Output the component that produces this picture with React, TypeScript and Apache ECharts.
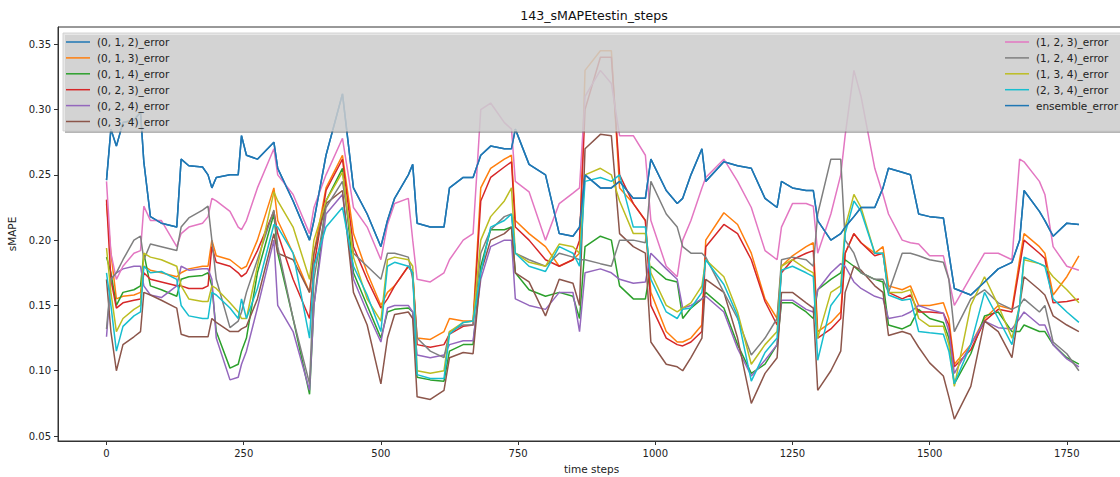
import React, { useEffect, useRef } from "react";
import * as echarts from "echarts";

const steps = [
  0, 8, 18, 30, 50, 62, 68, 80, 100, 128,
  136, 150, 175, 185, 192, 200, 225, 240, 246, 255,
  275, 305, 312, 340, 370, 378, 400, 430, 450, 475,
  500, 512, 525, 550, 558, 566, 590, 615, 625, 650,
  668, 682, 700, 725, 738, 745, 770, 800, 825, 850,
  862, 872, 900, 920, 935, 960, 982, 992, 1020, 1040,
  1050, 1065, 1085, 1092, 1125, 1150, 1175, 1200, 1222, 1230,
  1250, 1275, 1288, 1296, 1320, 1338, 1346, 1362, 1375, 1400,
  1415, 1425, 1450, 1465, 1480, 1500, 1525, 1535, 1545, 1575,
  1600, 1625, 1650, 1664, 1672, 1700, 1710, 1725, 1750, 1772,
];

const err012 = [
  0.246,0.285,0.272,0.29,0.292,0.298,0.26,0.218,0.213,0.21,
  0.262,0.257,0.256,0.25,0.24,0.248,0.25,0.25,0.28,0.265,
  0.262,0.275,0.255,0.23,0.2,0.215,0.265,0.312,0.24,0.22,
  0.195,0.215,0.232,0.25,0.258,0.213,0.21,0.21,0.24,0.248,
  0.248,0.265,0.272,0.27,0.27,0.285,0.258,0.25,0.205,0.203,
  0.21,0.25,0.24,0.24,0.245,0.232,0.232,0.262,0.238,0.228,
  0.232,0.25,0.27,0.245,0.26,0.257,0.255,0.232,0.225,0.245,
  0.24,0.238,0.238,0.215,0.2,0.205,0.21,0.218,0.225,0.225,
  0.24,0.255,0.252,0.25,0.22,0.218,0.217,0.19,0.163,0.158,
  0.168,0.178,0.183,0.2,0.238,0.222,0.215,0.203,0.213,0.212,
];
const err013 = [
  0.228,0.19,0.155,0.157,0.158,0.16,0.18,0.177,0.175,0.172,
  0.175,0.178,0.18,0.18,0.2,0.188,0.185,0.18,0.178,0.18,
  0.2,0.24,0.215,0.19,0.16,0.19,0.24,0.265,0.205,0.175,
  0.15,0.16,0.165,0.18,0.175,0.125,0.124,0.13,0.14,0.138,
  0.138,0.24,0.255,0.262,0.265,0.215,0.205,0.195,0.18,0.185,
  0.19,0.33,0.345,0.345,0.24,0.228,0.215,0.16,0.13,0.122,
  0.122,0.125,0.135,0.2,0.221,0.212,0.19,0.155,0.14,0.18,
  0.188,0.195,0.198,0.13,0.137,0.145,0.19,0.205,0.198,0.19,
  0.195,0.165,0.162,0.165,0.15,0.15,0.152,0.14,0.105,0.12,
  0.14,0.15,0.147,0.185,0.205,0.195,0.19,0.158,0.172,0.188,
];
const err014 = [
  0.187,0.175,0.15,0.16,0.162,0.165,0.19,0.165,0.162,0.157,
  0.17,0.172,0.173,0.175,0.165,0.13,0.102,0.105,0.115,0.125,
  0.175,0.22,0.19,0.14,0.082,0.15,0.23,0.255,0.175,0.15,
  0.125,0.145,0.147,0.148,0.145,0.095,0.093,0.092,0.115,0.12,
  0.12,0.18,0.208,0.208,0.21,0.175,0.162,0.157,0.16,0.157,
  0.14,0.195,0.203,0.2,0.165,0.155,0.155,0.18,0.17,0.168,
  0.14,0.148,0.155,0.16,0.148,0.12,0.098,0.105,0.12,0.152,
  0.152,0.145,0.14,0.162,0.17,0.175,0.185,0.18,0.175,0.17,
  0.168,0.135,0.132,0.135,0.147,0.14,0.137,0.125,0.09,0.113,
  0.142,0.145,0.13,0.13,0.135,0.13,0.13,0.12,0.11,0.105,
];
const err023 = [
  0.231,0.17,0.148,0.152,0.154,0.155,0.175,0.17,0.168,0.165,
  0.165,0.163,0.163,0.165,0.195,0.183,0.18,0.175,0.172,0.175,
  0.192,0.222,0.205,0.17,0.14,0.18,0.238,0.262,0.195,0.17,
  0.148,0.155,0.165,0.18,0.175,0.12,0.118,0.12,0.128,0.134,
  0.135,0.23,0.248,0.256,0.26,0.21,0.2,0.185,0.18,0.185,
  0.2,0.3,0.34,0.34,0.25,0.228,0.215,0.15,0.125,0.12,
  0.119,0.122,0.13,0.195,0.212,0.205,0.185,0.153,0.135,0.175,
  0.185,0.19,0.192,0.125,0.132,0.14,0.19,0.205,0.198,0.188,
  0.19,0.16,0.155,0.158,0.145,0.145,0.144,0.135,0.103,0.116,
  0.138,0.147,0.145,0.18,0.2,0.19,0.186,0.152,0.153,0.155,
];
const err024 = [
  0.126,0.17,0.175,0.178,0.18,0.18,0.165,0.158,0.156,0.165,
  0.18,0.177,0.178,0.178,0.17,0.125,0.093,0.095,0.105,0.115,
  0.148,0.2,0.15,0.13,0.085,0.15,0.22,0.235,0.17,0.145,
  0.122,0.148,0.15,0.15,0.145,0.112,0.11,0.112,0.12,0.123,
  0.123,0.17,0.195,0.2,0.2,0.155,0.15,0.147,0.16,0.16,
  0.13,0.175,0.178,0.175,0.17,0.167,0.168,0.19,0.178,0.17,
  0.148,0.15,0.155,0.157,0.145,0.117,0.096,0.108,0.12,0.154,
  0.154,0.147,0.145,0.162,0.175,0.182,0.18,0.168,0.163,0.157,
  0.155,0.14,0.142,0.145,0.15,0.147,0.144,0.13,0.098,0.12,
  0.138,0.133,0.132,0.14,0.145,0.135,0.135,0.12,0.109,0.103,
];
const err034 = [
  0.17,0.13,0.1,0.12,0.126,0.13,0.16,0.158,0.154,0.148,
  0.128,0.126,0.126,0.126,0.14,0.137,0.13,0.13,0.132,0.134,
  0.155,0.205,0.19,0.185,0.16,0.19,0.228,0.238,0.16,0.135,
  0.09,0.125,0.143,0.145,0.14,0.08,0.078,0.085,0.11,0.114,
  0.113,0.175,0.2,0.205,0.21,0.175,0.168,0.142,0.17,0.167,
  0.15,0.27,0.281,0.28,0.205,0.195,0.19,0.122,0.105,0.103,
  0.1,0.11,0.125,0.17,0.16,0.125,0.075,0.098,0.11,0.16,
  0.16,0.152,0.148,0.085,0.1,0.115,0.16,0.18,0.177,0.165,
  0.16,0.127,0.13,0.128,0.118,0.106,0.096,0.08,0.063,0.088,
  0.138,0.13,0.11,0.15,0.172,0.162,0.158,0.142,0.135,0.13,
];
const err123 = [
  0.245,0.19,0.17,0.18,0.19,0.192,0.226,0.215,0.215,0.195,
  0.205,0.21,0.213,0.218,0.232,0.23,0.222,0.21,0.208,0.215,
  0.24,0.27,0.25,0.235,0.205,0.225,0.25,0.278,0.225,0.21,
  0.185,0.212,0.228,0.232,0.2,0.17,0.168,0.175,0.185,0.2,
  0.205,0.3,0.305,0.29,0.285,0.245,0.237,0.2,0.228,0.236,
  0.24,0.31,0.33,0.32,0.28,0.28,0.265,0.215,0.18,0.172,
  0.2,0.215,0.24,0.248,0.262,0.245,0.225,0.192,0.185,0.21,
  0.228,0.228,0.226,0.19,0.22,0.25,0.28,0.33,0.31,0.255,
  0.235,0.22,0.2,0.198,0.197,0.188,0.188,0.17,0.15,0.172,
  0.19,0.19,0.185,0.262,0.26,0.245,0.235,0.195,0.18,0.177,
];
const err124 = [
  0.132,0.17,0.175,0.185,0.2,0.203,0.185,0.197,0.195,0.192,
  0.21,0.217,0.223,0.226,0.2,0.17,0.133,0.138,0.145,0.16,
  0.185,0.223,0.195,0.14,0.09,0.17,0.225,0.245,0.19,0.18,
  0.17,0.19,0.19,0.187,0.17,0.125,0.115,0.11,0.13,0.135,
  0.135,0.19,0.208,0.218,0.22,0.19,0.185,0.18,0.19,0.187,
  0.185,0.185,0.182,0.18,0.2,0.2,0.198,0.245,0.22,0.21,
  0.195,0.19,0.19,0.187,0.16,0.14,0.112,0.125,0.14,0.185,
  0.187,0.185,0.18,0.22,0.262,0.262,0.2,0.19,0.175,0.17,
  0.17,0.16,0.19,0.19,0.188,0.185,0.183,0.17,0.13,0.155,
  0.162,0.152,0.147,0.15,0.155,0.145,0.15,0.122,0.113,0.1,
];
const err134 = [
  0.194,0.16,0.13,0.14,0.147,0.15,0.19,0.187,0.185,0.18,
  0.165,0.155,0.153,0.153,0.165,0.163,0.152,0.145,0.14,0.14,
  0.18,0.237,0.23,0.21,0.17,0.2,0.23,0.252,0.187,0.155,
  0.138,0.185,0.187,0.185,0.18,0.1,0.098,0.1,0.13,0.137,
  0.138,0.2,0.218,0.23,0.24,0.19,0.183,0.18,0.197,0.195,
  0.19,0.25,0.255,0.25,0.23,0.205,0.205,0.175,0.15,0.145,
  0.148,0.152,0.165,0.185,0.172,0.145,0.105,0.12,0.13,0.18,
  0.185,0.178,0.175,0.125,0.16,0.165,0.21,0.235,0.225,0.19,
  0.19,0.16,0.16,0.162,0.14,0.134,0.134,0.12,0.088,0.15,
  0.172,0.15,0.125,0.15,0.185,0.182,0.18,0.172,0.162,0.152,
];
const err234 = [
  0.175,0.15,0.115,0.134,0.142,0.145,0.18,0.175,0.176,0.17,
  0.15,0.142,0.14,0.14,0.16,0.158,0.148,0.14,0.155,0.14,
  0.163,0.212,0.21,0.19,0.125,0.18,0.21,0.225,0.18,0.158,
  0.13,0.18,0.183,0.18,0.175,0.097,0.094,0.094,0.128,0.137,
  0.138,0.175,0.21,0.215,0.22,0.19,0.18,0.176,0.195,0.19,
  0.18,0.245,0.248,0.245,0.25,0.21,0.21,0.17,0.145,0.14,
  0.147,0.148,0.16,0.185,0.166,0.142,0.092,0.114,0.125,0.177,
  0.18,0.175,0.172,0.108,0.15,0.16,0.205,0.23,0.222,0.19,
  0.19,0.158,0.154,0.155,0.13,0.129,0.128,0.115,0.09,0.12,
  0.16,0.14,0.12,0.15,0.187,0.182,0.18,0.155,0.145,0.137,
];
const ensembleErr = [
  0.246,0.285,0.272,0.29,0.292,0.298,0.26,0.218,0.213,0.21,
  0.262,0.257,0.256,0.25,0.24,0.248,0.25,0.25,0.28,0.265,
  0.262,0.275,0.255,0.23,0.2,0.215,0.265,0.312,0.24,0.22,
  0.195,0.215,0.232,0.25,0.258,0.213,0.21,0.21,0.24,0.248,
  0.248,0.265,0.272,0.27,0.27,0.285,0.258,0.25,0.205,0.203,
  0.21,0.25,0.24,0.24,0.245,0.232,0.232,0.262,0.238,0.228,
  0.232,0.25,0.27,0.245,0.26,0.257,0.255,0.232,0.225,0.245,
  0.24,0.238,0.238,0.215,0.2,0.205,0.21,0.218,0.225,0.225,
  0.24,0.255,0.252,0.25,0.22,0.218,0.217,0.19,0.163,0.158,
  0.168,0.178,0.183,0.2,0.238,0.222,0.215,0.203,0.213,0.212,
];

const seriesNames = ["(0, 1, 2)_error","(0, 1, 3)_error","(0, 1, 4)_error","(0, 2, 3)_error","(0, 2, 4)_error","(0, 3, 4)_error","(1, 2, 3)_error","(1, 2, 4)_error","(1, 3, 4)_error","(2, 3, 4)_error","ensemble_error"];
const seriesValues = [err012, err013, err014, err023, err024, err034, err123, err124, err134, err234, ensembleErr];
const colors = ["#1f77b4","#ff7f0e","#2ca02c","#d62728","#9467bd","#8c564b","#e377c2","#7f7f7f","#bcbd22","#17becf","#1f77b4"];

const xTicks = [0, 250, 500, 750, 1000, 1250, 1500, 1750];
const yTicks = [0.05, 0.1, 0.15, 0.2, 0.25, 0.3, 0.35];

const FONT = "DejaVu Sans";

export default function App() {
  const ref = useRef<HTMLDivElement>(null);
  useEffect(() => {
    if (!ref.current) return;
    const chart = echarts.init(ref.current, undefined, { renderer: "svg" });

    const els: any[] = [];
    els.push({
      type: "rect", z: 100,
      shape: { x: 65, y: 35, width: 1064, height: 98 },
      style: { fill: "rgba(110,110,110,0.5)" },
    });
    els.push({
      type: "rect", z: 101,
      shape: { x: 63, y: 33, width: 1064, height: 98 },
      style: { fill: "rgba(222,222,222,0.72)", stroke: "rgba(204,204,204,0.8)", lineWidth: 1 },
    });
    seriesNames.forEach((name, i) => {
      const col = i < 6 ? 0 : 1;
      const row = i < 6 ? i : i - 6;
      const y = 42 + row * 15.9;
      const lx = col === 0 ? 66 : 1005;
      els.push({
        type: "line", z: 102,
        shape: { x1: lx, y1: y, x2: lx + 24, y2: y },
        style: { stroke: colors[i], lineWidth: 1.5 },
      });
      els.push({
        type: "text", z: 102,
        x: lx + 31, y,
        style: { text: name, fill: "#222", font: `10.5px '${FONT}'`, align: "left", verticalAlign: "middle" },
      });
    });
    els.push({
      type: "text", z: 102, x: 594, y: 15,
      style: { text: "143_sMAPEtestin_steps", fill: "#111", font: `12.6px '${FONT}'`, align: "center", verticalAlign: "middle" },
    });

    const option: any = {
      animation: false,
      backgroundColor: "#ffffff",
      textStyle: { fontFamily: FONT },
      grid: {
        left: 58, top: 27, width: 1067, height: 414,
        outerBoundsMode: "none", containLabel: false,
        show: true, borderColor: "#333", borderWidth: 1, backgroundColor: "transparent",
      },
      xAxis: {
        type: "value", min: -88.4, max: 1856,
        axisLine: { show: true, onZero: false, lineStyle: { color: "#333", width: 1 } },
        axisTick: { show: true, length: 4, customValues: xTicks, lineStyle: { color: "#333" } },
        axisLabel: { customValues: xTicks, color: "#222", fontSize: 10, margin: 7, fontFamily: FONT, formatter: (v: number) => String(v) },
        splitLine: { show: false },
        name: "time steps", nameLocation: "middle", nameGap: 22,
        nameTextStyle: { fontSize: 10.5, color: "#222", fontFamily: FONT },
      },
      yAxis: {
        type: "value", min: 0.0462, max: 0.3632,
        axisLine: { show: true, onZero: false, lineStyle: { color: "#333", width: 1 } },
        axisTick: { show: true, length: 4, customValues: yTicks, lineStyle: { color: "#333" } },
        axisLabel: { customValues: yTicks, color: "#222", fontSize: 10, margin: 7, fontFamily: FONT, formatter: (v: number) => v.toFixed(2) },
        splitLine: { show: false },
        name: "sMAPE", nameLocation: "middle", nameGap: 38,
        nameTextStyle: { fontSize: 10.5, color: "#222", fontFamily: FONT },
      },
      series: seriesNames.map((name, i) => ({
        name, type: "line", showSymbol: false, symbol: "none",
        lineStyle: { width: 1.5, color: colors[i] },
        itemStyle: { color: colors[i] },
        data: steps.map((t, k) => [t, seriesValues[i][k]]),
        z: 2,
      })),
      graphic: els,
    };
    chart.setOption(option);
    return () => chart.dispose();
  }, []);
  return <div ref={ref} style={{ position: "fixed", left: 0, top: 0, width: 1120, height: 477, background: "#fff" }} />;
}
